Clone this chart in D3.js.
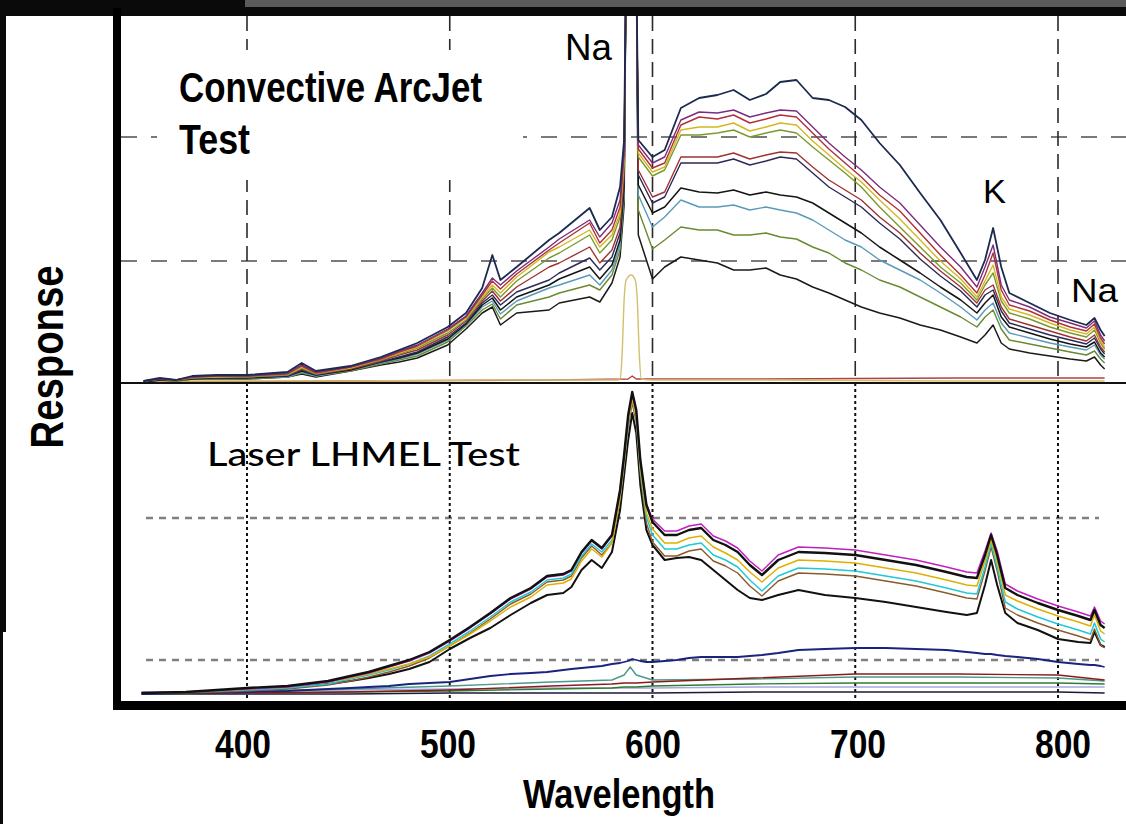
<!DOCTYPE html>
<html><head><meta charset="utf-8">
<script src="https://cdn.jsdelivr.net/npm/d3@7"></script>
<style>html,body{margin:0;padding:0;background:#fff;}svg{display:block;}</style>
</head><body>
<svg id="c" width="1126" height="824"></svg>
<script>
// ---------- DATA ----------
const xTicks = [400, 500, 600, 700, 800];
const topGridY = [124, 248];
const bottomGridY = [35, 177];

// Convective ArcJet test (upper panel)
const topNm = [349,357,365,373,385,400,420,427,434,451,466,475,484,499,508,516,521,525,533,549,554,569,574,580,584,586,587,592,593,600,606,614,623,632,640,648,656,663,671,679,687,695,703,712,722,732,742,752,760,764,768,772,776,786,796,806,814,818,821,823];
const arcNavy   = [4,7,5,9,10,10,13,22,14,19,28,35,42,58,72,97,130,105,118,145,152,177,155,168,198,245,425,425,245,228,235,277,287,290,295,285,291,303,305,287,285,278,265,242,220,192,165,132,105,125,157,118,92,82,72,65,60,67,55,49];
const arcPurple = [4,6,5,8,9,9,12,20,13,18,27,34,40,56,69,92,107,100,114,138,146,165,148,162,185,235,425,425,240,222,228,265,273,272,275,268,272,275,274,258,242,228,215,198,182,160,138,118,98,118,140,100,85,78,68,62,57,64,50,44];
const arcRed    = [4,6,5,8,9,9,11,19,12,18,26,33,39,55,68,90,104,96,111,135,142,162,142,155,178,230,425,425,236,217,222,260,268,266,270,262,266,270,268,252,236,222,208,190,174,152,130,110,92,110,132,95,80,74,65,58,54,61,47,41];
const arcYellow = [4,6,5,8,8,9,11,18,12,17,26,32,38,54,67,88,100,92,108,133,138,155,138,150,172,225,425,425,232,213,218,255,258,258,262,254,258,262,260,244,230,216,203,185,166,145,124,106,88,104,120,88,76,70,62,55,51,58,44,38];
const arcGreen  = [4,6,5,7,8,8,10,17,11,17,25,31,37,52,65,86,97,88,104,127,132,150,132,145,168,220,425,425,228,209,215,250,250,252,255,248,252,255,252,238,225,212,198,178,158,138,118,102,85,100,112,84,72,66,58,52,48,55,42,36];
const arcBrown  = [4,6,5,7,8,8,10,16,11,16,24,30,35,50,64,84,94,84,98,118,122,138,122,135,158,212,425,425,215,188,193,228,228,228,232,226,230,233,232,218,205,195,185,168,152,132,114,98,82,95,100,78,66,60,54,48,44,50,38,33];
const arcDark   = [3,6,5,7,7,8,9,15,10,16,23,28,33,48,62,82,90,80,93,105,112,127,115,128,152,205,425,425,210,182,188,222,222,222,226,220,224,228,226,212,198,188,178,162,146,126,109,94,78,90,95,74,62,56,50,45,41,47,36,31];
const arcBlack  = [3,5,5,6,7,7,9,14,10,15,23,27,32,46,61,80,87,75,88,100,106,118,106,120,145,198,425,425,200,172,178,197,193,192,195,190,193,190,188,182,172,162,152,138,125,112,98,85,72,82,90,68,58,52,46,41,38,43,32,28];
const arcSteel  = [3,5,5,6,7,7,8,13,9,15,22,26,31,45,60,78,84,71,84,97,100,110,100,115,140,192,425,425,190,158,168,185,178,178,180,175,178,175,172,165,155,145,138,125,115,105,92,78,65,75,82,62,52,47,42,38,35,40,30,26];
const arcOlive  = [3,5,4,6,6,6,8,12,9,14,21,25,29,43,59,75,81,66,80,88,92,100,95,110,135,188,425,425,175,136,145,158,155,155,150,150,152,148,146,138,132,122,115,105,98,88,78,68,58,68,75,56,45,41,37,33,30,34,26,22];
const arcLow    = [3,5,4,6,6,6,8,11,8,14,20,23,27,40,56,72,78,60,72,75,82,88,83,102,128,180,425,425,150,106,118,128,125,122,115,115,117,110,106,98,92,85,78,72,67,60,55,48,42,50,60,42,36,32,29,26,24,28,20,16];
const naOnlyNm  = [349,450,520,560,583,584,585,586,587,589.5,591.5,592.5,593.5,594.5,600,650,750,823];
const naOnlyVal = [4,4,5,5,5,6,30,85,105,110,105,85,30,6,5,5,4,4];
const arcBaseNm = [349,450,550,588,590,592,650,750,823];
const arcBaseVal= [3,4,5,6,9,6,6,7,7];

// Laser LHMEL test (lower panel)
const botNm = [348,370,400,420,440,451,460,470,480,490,500,510,520,530,540,548,556,560,565,570,575,580,584,586,588,590,592,594,597,600,606,612,618,624,630,636,642,648,654,662,672,685,700,715,730,745,755,760,764,767,770,774,780,790,800,810,816,818,821,823];
const lasBlack   = [2,3,7,9,14,19,23,29,35,43,55,68,82,97,107,119,121,125,143,155,147,160,205,240,280,303,285,235,190,173,160,160,165,167,155,150,143,130,120,135,143,142,140,135,130,123,118,117,140,160,140,107,100,92,85,79,75,85,70,67];
const lasMagenta = [2,3,6,8,13,18,22,28,34,42,54,67,81,96,106,118,120,124,142,154,146,159,204,238,278,300,283,234,191,176,164,164,169,171,159,154,147,134,124,140,148,147,145,140,135,128,123,122,144,162,144,111,104,96,89,83,79,88,74,71];
const lasYellow  = [2,3,6,8,13,17,21,26,31,38,49,61,74,88,98,110,112,116,134,146,138,152,198,234,274,296,278,228,182,166,152,152,157,159,148,142,135,123,113,127,135,134,132,127,122,115,110,109,134,155,134,100,94,86,79,73,69,80,64,61];
const lasCyan    = [2,3,5,7,11,16,20,25,31,39,51,64,78,93,103,115,117,121,139,151,143,155,198,232,272,296,277,225,178,160,146,146,150,152,140,135,128,115,104,119,127,126,124,119,114,107,102,101,128,152,128,93,86,78,71,65,61,72,56,53];
const lasBrown   = [2,2,4,6,10,14,18,23,29,37,49,62,76,91,101,113,115,119,137,149,140,152,195,229,268,292,273,220,172,153,139,139,144,146,134,129,122,109,99,114,122,121,119,114,109,102,97,96,124,148,124,87,80,72,65,59,55,66,50,47];
const lasLower   = [2,2,5,7,11,14,17,21,26,33,46,57,67,80,92,100,102,108,125,135,127,143,185,220,255,282,262,210,165,150,135,137,138,135,125,115,105,97,95,100,105,100,97,93,88,83,80,82,110,135,110,82,72,65,56,53,52,63,50,48];
const lasNavy    = [1,2,3,4,6,7,8,9,11,12,13,16,19,21,22,23,25,26,27,28,29,31,32,33,34,36,35,34,33,33,34,35,37,38,38,38,38,39,40,42,45,46,47,47,46,45,43,42,41,41,40,39,38,36,33,31,30,30,29,28];
const lowNm      = [348,400,450,500,550,580,586,589,592,600,650,700,750,800,823];
const lasRed     = [2,2,3,5,9,11,12,12,12,13,17,21,21,20,15];
const lasGreen   = [1,2,3,4,6,7,8,8,8,9,11,12,12,12,11];
const lasTeal    = [2,4,6,9,13,15,20,28,20,15,16,18,18,17,14];
const lasLavender= [3,4,5,6,7,7,7,7,7,7,8,8,8,8,8];
const lasBase    = [1,1,1,2,2,2,2,2,2,2,3,3,3,3,2];

// ---------- STYLE ----------
const topSeries = [
  {nm: arcBaseNm, v: arcBaseVal, c: '#b04040', w: 1.4},
  {nm: naOnlyNm, v: naOnlyVal, c: '#d2c070', w: 1.4, smooth: true},
  {nm: topNm, v: arcLow, c: '#1a1a1a', w: 1.5},
  {nm: topNm, v: arcOlive, c: '#6a8a30', w: 1.4},
  {nm: topNm, v: arcSteel, c: '#5a9ab8', w: 1.4},
  {nm: topNm, v: arcBlack, c: '#141414', w: 1.5},
  {nm: topNm, v: arcDark, c: '#2a2a58', w: 1.4},
  {nm: topNm, v: arcBrown, c: '#a03232', w: 1.4},
  {nm: topNm, v: arcGreen, c: '#7a9a30', w: 1.4},
  {nm: topNm, v: arcYellow, c: '#d4b820', w: 1.4},
  {nm: topNm, v: arcRed, c: '#b0303a', w: 1.4},
  {nm: topNm, v: arcPurple, c: '#7b2d7d', w: 1.4},
  {nm: topNm, v: arcNavy, c: '#1b2a4e', w: 1.8}
];
const botSeries = [
  {nm: lowNm, v: lasBase, c: '#1a1a3a', w: 1.6},
  {nm: lowNm, v: lasLavender, c: '#a8a8e0', w: 1.4},
  {nm: lowNm, v: lasGreen, c: '#2e7d32', w: 1.4},
  {nm: lowNm, v: lasTeal, c: '#4a9a8a', w: 1.4},
  {nm: lowNm, v: lasRed, c: '#8b1a1a', w: 1.4},
  {nm: botNm, v: lasNavy, c: '#1a237e', w: 1.8},
  {nm: botNm, v: lasLower, c: '#111', w: 2.0},
  {nm: botNm, v: lasBrown, c: '#8b5a2b', w: 1.4},
  {nm: botNm, v: lasCyan, c: '#20c8d8', w: 1.5},
  {nm: botNm, v: lasYellow, c: '#e0b000', w: 1.5},
  {nm: botNm, v: lasMagenta, c: '#c020c0', w: 1.5},
  {nm: botNm, v: lasBlack, c: '#111', w: 2.4}
];

// ---------- LAYOUT ----------
const PL = 121, PR = 1126, PT = 16, PM = 383, PB = 701;
const x = d3.scaleLinear().domain([400, 800]).range([247, 1058]);
const xLabel = d3.scaleLinear().domain([400, 800]).range([243, 1063]);
const yTop = d3.scaleLinear().domain([0, 375]).range([385, 10]);
const yBot = d3.scaleLinear().domain([0, 312]).range([695, 383]);

const svg = d3.select('#c');
svg.append('rect').attr('width', 1126).attr('height', 824).attr('fill', '#fff');

const defs = svg.append('defs');
defs.append('clipPath').attr('id', 'clipTop').append('rect')
  .attr('x', PL).attr('y', PT).attr('width', PR - PL).attr('height', PM - PT);
defs.append('clipPath').attr('id', 'clipBot').append('rect')
  .attr('x', PL).attr('y', PM).attr('width', PR - PL).attr('height', PB - PM);

// grid - top panel
const gTop = svg.append('g');
gTop.selectAll('line.hy').data(topGridY).join('line')
  .attr('x1', PL).attr('x2', PR).attr('y1', d => yTop(d)).attr('y2', d => yTop(d))
  .attr('stroke', '#7a7a7a').attr('stroke-width', 2).attr('stroke-dasharray', '16,14');
gTop.selectAll('line.vx').data(xTicks).join('line')
  .attr('x1', d => x(d)).attr('x2', d => x(d)).attr('y1', PT).attr('y2', PM)
  .attr('stroke', '#2a2a2a').attr('stroke-width', 1.6).attr('stroke-dasharray', '15,8');

// grid - bottom panel
const gBot = svg.append('g');
gBot.selectAll('line.hy').data(bottomGridY).join('line')
  .attr('x1', 146).attr('x2', 1099).attr('y1', d => yBot(d)).attr('y2', d => yBot(d))
  .attr('stroke', '#808080').attr('stroke-width', 2.5).attr('stroke-dasharray', '7,6');
gBot.selectAll('line.vx').data(xTicks).join('line')
  .attr('x1', d => x(d)).attr('x2', d => x(d)).attr('y1', PM).attr('y2', PB)
  .attr('stroke', '#111').attr('stroke-width', 2).attr('stroke-dasharray', '3,3');

// white box behind upper title
svg.append('rect').attr('x', 157).attr('y', 50).attr('width', 366).attr('height', 130).attr('fill', '#fff');

// lines
const lineTop = (s) => d3.line().x((d, i) => x(s.nm[i])).y(d => yTop(d))
  .curve(s.smooth ? d3.curveMonotoneX : d3.curveLinear)(s.v);
const lineBot = (s) => d3.line().x((d, i) => x(s.nm[i])).y(d => yBot(d))
  .curve(d3.curveLinear)(s.v);

svg.append('g').attr('clip-path', 'url(#clipTop)')
  .selectAll('path').data(topSeries).join('path')
  .attr('d', lineTop).attr('fill', 'none').attr('stroke', d => d.c)
  .attr('stroke-width', d => d.w).attr('stroke-linejoin', 'round');

svg.append('g').attr('clip-path', 'url(#clipBot)')
  .selectAll('path').data(botSeries).join('path')
  .attr('d', lineBot).attr('fill', 'none').attr('stroke', d => d.c)
  .attr('stroke-width', d => d.w).attr('stroke-linejoin', 'round');

// divider & frame
svg.append('rect').attr('x', PL).attr('y', PM - 1).attr('width', PR - PL).attr('height', 2).attr('fill', '#111');
svg.append('rect').attr('x', 0).attr('y', 0).attr('width', 1126).attr('height', 16).attr('fill', '#0a0a0a');
svg.append('rect').attr('x', 245).attr('y', 0).attr('width', 881).attr('height', 7).attr('fill', '#5b5b5b');
svg.append('rect').attr('x', 0).attr('y', 0).attr('width', 6).attr('height', 632).attr('fill', '#0a0a0a');
svg.append('rect').attr('x', 0).attr('y', 632).attr('width', 3).attr('height', 192).attr('fill', '#0a0a0a');
svg.append('rect').attr('x', 113).attr('y', 8).attr('width', 8).attr('height', 702).attr('fill', '#000');
svg.append('rect').attr('x', 113).attr('y', PB).attr('width', PR - 113).attr('height', 9).attr('fill', '#000');

// text
const narrow = "'Liberation Sans Narrow','Arial Narrow','Liberation Sans',Arial,sans-serif";
const plain = "'Liberation Sans',Arial,sans-serif";
function txt(t, xx, yy, opt) {
  const e = svg.append('text').attr('x', xx).attr('y', yy).text(t)
    .attr('font-family', opt.f).attr('font-size', opt.s)
    .attr('font-weight', opt.b ? 'bold' : (opt.wt || 'normal')).attr('fill', '#000');
  if (opt.a) e.attr('text-anchor', opt.a);
  if (opt.len) e.attr('textLength', opt.len).attr('lengthAdjust', 'spacingAndGlyphs');
  if (opt.tr) e.attr('transform', opt.tr);
  return e;
}
txt('Convective ArcJet', 179, 102, {f: narrow, s: 42, b: true, len: 303});
txt('Test', 179, 154, {f: narrow, s: 42, b: true, len: 71});
txt('Na', 565, 60, {f: plain, s: 36, len: 47});
txt('K', 983, 203, {f: plain, s: 33, len: 23});
txt('Na', 1071, 302, {f: plain, s: 34, len: 47});
txt('Laser LHMEL Test', 207, 466, {f: "Lato,'Open Sans',sans-serif", s: 33, len: 313, wt: 500});

svg.append('g').selectAll('text').data(xTicks).join('text')
  .attr('x', d => xLabel(d)).attr('y', 758).attr('text-anchor', 'middle')
  .attr('font-family', narrow).attr('font-size', 40).attr('font-weight', 'bold')
  .attr('textLength', 56).attr('lengthAdjust', 'spacingAndGlyphs')
  .text(d => d);

txt('Wavelength', 619, 808, {f: narrow, s: 40, b: true, a: 'middle', len: 192});
txt('Response', 0, 0, {f: narrow, s: 46, b: true, a: 'middle', len: 183, tr: 'translate(63,357) rotate(-90)'});
</script>
</body></html>
